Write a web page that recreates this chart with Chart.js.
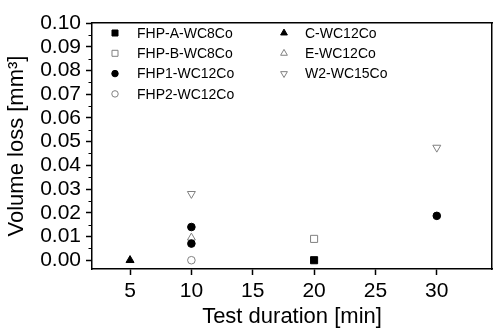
<!DOCTYPE html>
<html>
<head>
<meta charset="utf-8">
<script src="https://cdn.jsdelivr.net/npm/chart.js@4/dist/chart.umd.min.js"></script>
<style>
    html, body { margin: 0; padding: 0; background: #ffffff; overflow: hidden; }
    #wrap { width: 501px; height: 335px; }
    canvas { display: block; }
</style>
</head>
<body>
<div id="wrap"><canvas id="wearChart" width="501" height="335"></canvas></div>
<script>
// tick labels
const xTicks = [5, 10, 15, 20, 25, 30];
const yTicks = [0, 0.01, 0.02, 0.03, 0.04, 0.05, 0.06, 0.07, 0.08, 0.09, 0.10];

// series (x = test duration in min, y = volume loss in mm3)
const seriesNames = ['FHP-A-WC8Co', 'FHP-B-WC8Co', 'FHP1-WC12Co', 'FHP2-WC12Co', 'C-WC12Co', 'E-WC12Co', 'W2-WC15Co'];
const fhpAX = [20];
const fhpAY = [0.000];
const fhpBX = [20];
const fhpBY = [0.009];
const fhp1X = [10, 10, 30];
const fhp1Y = [0.014, 0.007, 0.0187];
const fhp2X = [10];
const fhp2Y = [0.000];
const cX = [5];
const cY = [0.000];
const eX = [10];
const eY = [0.0095];
const w2X = [10, 30];
const w2Y = [0.028, 0.0475];

const FONT = "'Liberation Sans', Arial, sans-serif";

function toPoints(xs, ys) {
    return xs.map((x, i) => ({ x: x, y: ys[i] }));
}

function makeSet(label, xs, ys, style, filled, radius, rotation) {
    return {
        label: label,
        data: toPoints(xs, ys),
        pointStyle: style,
        pointRadius: radius,
        pointHoverRadius: radius,
        rotation: rotation || 0,
        borderWidth: 1,
        borderColor: filled ? '#000000' : '#808080',
        backgroundColor: filled ? '#000000' : 'rgba(0,0,0,0)'
    };
}

const datasets = [
    makeSet(seriesNames[0], fhpAX, fhpAY, 'rect', true, 5),
    makeSet(seriesNames[1], fhpBX, fhpBY, 'rect', false, 5),
    makeSet(seriesNames[2], fhp1X, fhp1Y, 'circle', true, 3.8),
    makeSet(seriesNames[3], fhp2X, fhp2Y, 'circle', false, 3.8),
    makeSet(seriesNames[4], cX, cY, 'triangle', true, 4.6),
    makeSet(seriesNames[5], eX, eY, 'triangle', false, 4.6),
    makeSet(seriesNames[6], w2X, w2Y, 'triangle', false, 4.6, 180)
];

// minor y ticks and the in-plot legend
const framePlugin = {
    id: 'frame',
    afterDraw(chart) {
        const ctx = chart.ctx;
        const area = chart.chartArea;
        const y = chart.scales.y;
        ctx.save();

        // minor ticks halfway between the major ones
        ctx.strokeStyle = '#000000';
        ctx.lineWidth = 1;
        ctx.beginPath();
        for (let i = 0; i < yTicks.length - 1; i++) {
            const py = Math.round(y.getPixelForValue((yTicks[i] + yTicks[i + 1]) / 2)) + 0.5;
            ctx.moveTo(area.left - 3.5, py);
            ctx.lineTo(area.left, py);
        }
        ctx.stroke();

        // legend, two columns inside the plot
        const colMarker = [area.left + 23, area.left + 192];
        const colText = [area.left + 45, area.left + 213];
        const rowsPerCol = 4;
        ctx.font = '14px ' + FONT;
        ctx.textBaseline = 'middle';
        ctx.textAlign = 'left';
        chart.data.datasets.forEach((ds, i) => {
            const col = Math.floor(i / rowsPerCol);
            const row = i % rowsPerCol;
            const py = area.top + 10 + row * 20.3;
            ctx.fillStyle = ds.backgroundColor;
            ctx.strokeStyle = ds.borderColor;
            ctx.lineWidth = ds.borderWidth;
            Chart.helpers.drawPoint(ctx, {
                pointStyle: ds.pointStyle,
                rotation: ds.rotation,
                radius: ds.pointRadius * 0.85,
                borderWidth: ds.borderWidth
            }, colMarker[col], py);
            ctx.fillStyle = '#000000';
            ctx.fillText(ds.label, colText[col], py + 1);
        });
        ctx.restore();
    }
};

// bare axes that only draw the top and right edges of the box
const edgeAxis = (pos, fit) => ({
    type: 'linear',
    position: pos,
    display: true,
    afterFit: fit,
    border: { display: true, color: '#000000', width: 1.5 },
    grid: { display: false, drawOnChartArea: false, drawTicks: false },
    ticks: { display: false }
});

const config = {
    type: 'scatter',
    data: { datasets: datasets },
    options: {
        responsive: false,
        animation: false,
        layout: { padding: { top: 23, right: 9, left: 0, bottom: 0 } },
        plugins: {
            legend: { display: false },
            tooltip: { enabled: false }
        },
        scales: {
            x: {
                type: 'linear',
                min: 1.9,
                max: 34.5,
                afterBuildTicks: axis => { axis.ticks = xTicks.map(v => ({ value: v })); },
                afterFit: axis => { axis.height = 66; },
                border: { display: true, color: '#000000', width: 1.5 },
                grid: { drawOnChartArea: false, drawTicks: true, tickLength: 6, tickColor: '#000000', tickWidth: 1.5 },
                ticks: {
                    color: '#000000',
                    font: { family: FONT, size: 21 },
                    padding: 4,
                    autoSkip: false,
                    maxRotation: 0,
                    callback: v => String(v)
                },
                title: {
                    display: true,
                    text: 'Test duration [min]',
                    color: '#000000',
                    font: { family: FONT, size: 22 },
                    padding: { top: 0, bottom: 5 }
                }
            },
            y: {
                type: 'linear',
                min: -0.0037,
                max: 0.10,
                afterBuildTicks: axis => { axis.ticks = yTicks.map(v => ({ value: v })); },
                afterFit: axis => { axis.width = 92; },
                border: { display: true, color: '#000000', width: 1.5 },
                grid: { drawOnChartArea: false, drawTicks: true, tickLength: 6, tickColor: '#000000', tickWidth: 1.5 },
                ticks: {
                    color: '#000000',
                    font: { family: FONT, size: 21 },
                    padding: 5,
                    autoSkip: false,
                    callback: v => v.toFixed(2)
                },
                title: {
                    display: true,
                    text: 'Volume loss [mm³]',
                    color: '#000000',
                    font: { family: FONT, size: 22 },
                    padding: { top: 4, bottom: 0 }
                }
            },
            xTop: edgeAxis('top', axis => { axis.height = 0; }),
            yRight: edgeAxis('right', axis => { axis.width = 0; })
        }
    },
    plugins: [framePlugin]
};

new Chart(document.getElementById('wearChart'), config);
</script>
</body>
</html>
